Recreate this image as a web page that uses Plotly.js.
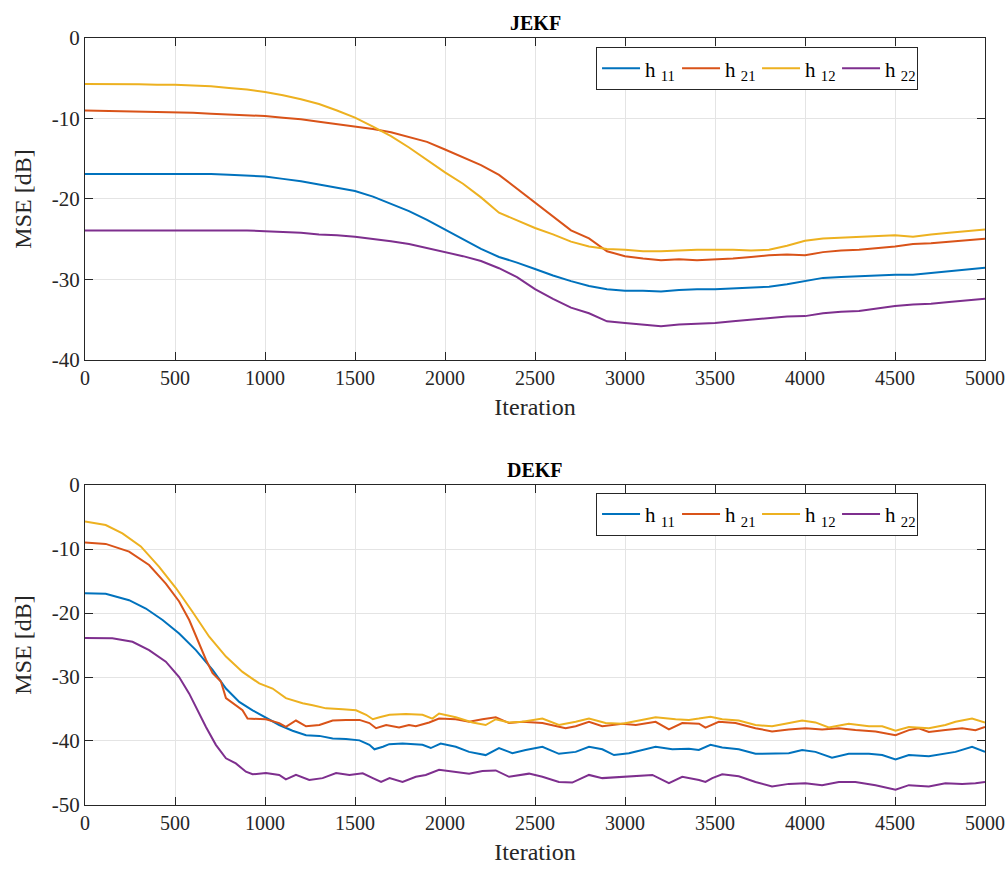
<!DOCTYPE html>
<html>
<head>
<meta charset="utf-8">
<script src="https://cdn.plot.ly/plotly-3.0.1.min.js"></script>
<style>html,body{margin:0;padding:0;background:#fff;}#chart{width:1005px;height:872px;}</style>
</head>
<body>
<div id="chart"></div>
<script>
// ---------- JEKF (top) ----------
var jekfX = [0,100,200,300,400,500,600,700,800,900,1000,1100,1200,1300,1400,1500,1600,1700,1800,1900,2000,2100,2200,2300,2400,2500,2600,2700,2800,2900,3000,3100,3200,3300,3400,3500,3600,3700,3800,3900,4000,4100,4200,4300,4400,4500,4600,4700,4800,4900,5000];
var jekfH11 = [-16.9,-16.9,-16.9,-16.9,-16.9,-16.9,-16.9,-16.9,-17.0,-17.1,-17.2,-17.5,-17.8,-18.2,-18.6,-19.0,-19.7,-20.6,-21.5,-22.6,-23.8,-25.0,-26.2,-27.2,-27.9,-28.7,-29.5,-30.2,-30.8,-31.2,-31.4,-31.4,-31.5,-31.3,-31.2,-31.2,-31.1,-31.0,-30.9,-30.6,-30.2,-29.8,-29.7,-29.6,-29.5,-29.4,-29.4,-29.2,-29.0,-28.8,-28.55];
var jekfH21 = [-9.0,-9.05,-9.1,-9.1,-9.15,-9.2,-9.3,-9.4,-9.5,-9.6,-9.7,-9.9,-10.1,-10.4,-10.7,-11.0,-11.3,-11.7,-12.3,-12.9,-13.85,-14.8,-15.8,-17.0,-18.7,-20.5,-22.1,-23.9,-24.9,-26.5,-27.1,-27.4,-27.6,-27.5,-27.6,-27.5,-27.4,-27.2,-27.0,-26.9,-27.0,-26.6,-26.4,-26.3,-26.1,-25.9,-25.6,-25.5,-25.3,-25.1,-24.95];
var jekfH12 = [-5.7,-5.7,-5.7,-5.75,-5.8,-5.8,-5.9,-6.0,-6.2,-6.4,-6.7,-7.1,-7.6,-8.2,-9.0,-9.9,-11.0,-12.2,-13.6,-15.2,-16.7,-18.1,-19.8,-21.7,-22.7,-23.6,-24.4,-25.3,-25.9,-26.2,-26.3,-26.5,-26.5,-26.4,-26.3,-26.3,-26.3,-26.4,-26.3,-25.8,-25.2,-24.9,-24.8,-24.7,-24.6,-24.5,-24.7,-24.4,-24.2,-24.0,-23.8];
var jekfH22 = [-23.9,-23.9,-23.9,-23.9,-23.9,-23.9,-23.9,-23.9,-23.9,-23.9,-24.0,-24.1,-24.2,-24.4,-24.5,-24.7,-24.95,-25.25,-25.6,-26.1,-26.6,-27.1,-27.7,-28.6,-29.7,-31.2,-32.4,-33.5,-34.2,-35.2,-35.4,-35.6,-35.8,-35.6,-35.5,-35.4,-35.2,-35.0,-34.8,-34.6,-34.55,-34.2,-34.0,-33.9,-33.6,-33.3,-33.1,-33.0,-32.8,-32.6,-32.4];

// ---------- DEKF (bottom) ----------
var dekfH11X = [0,115,245,338,431,523,616,709,783,857,931,1005,1079,1153,1228,1302,1376,1450,1525,1580,1608,1655,1690,1764,1875,1921,1976,2060,2134,2226,2300,2374,2448,2541,2633,2726,2800,2874,2939,3022,3096,3170,3263,3355,3410,3475,3540,3632,3725,3817,3910,3984,4058,4150,4243,4355,4429,4503,4577,4688,4762,4836,4928,5000];
var dekfH11 = [-16.9,-17.0,-18.0,-19.3,-21.1,-23.2,-25.8,-28.9,-31.8,-33.9,-35.2,-36.3,-37.5,-38.4,-39.1,-39.2,-39.6,-39.7,-39.9,-40.6,-41.3,-40.9,-40.5,-40.4,-40.6,-41.1,-40.4,-40.9,-41.7,-42.2,-41.1,-41.9,-41.4,-40.9,-42.0,-41.7,-40.9,-41.3,-42.2,-41.9,-41.4,-40.9,-41.3,-41.2,-41.4,-40.6,-41.0,-41.3,-42.0,-42.0,-41.9,-41.4,-41.7,-42.6,-42.0,-42.0,-42.2,-42.9,-42.2,-42.4,-42.0,-41.7,-40.9,-41.7];

var dekfH21X = [0,115,245,356,449,523,579,625,672,709,755,783,820,875,903,950,1005,1079,1116,1172,1228,1302,1376,1450,1525,1580,1617,1673,1745,1800,1838,1912,1967,2060,2134,2208,2282,2356,2430,2541,2670,2726,2800,2874,2985,3060,3170,3244,3318,3411,3447,3521,3614,3725,3817,3910,4002,4095,4188,4280,4392,4503,4577,4632,4688,4780,4873,4947,5000];
var dekfH21 = [-9.0,-9.2,-10.4,-12.5,-15.4,-18.2,-21.1,-24.2,-27.3,-29.4,-30.7,-33.3,-34.1,-35.2,-36.5,-36.6,-36.6,-37.2,-37.8,-36.8,-37.7,-37.5,-36.8,-36.7,-36.7,-37.2,-38.0,-37.5,-37.9,-37.5,-37.7,-37.1,-36.5,-36.6,-37.0,-36.6,-36.3,-37.2,-37.0,-37.2,-38.0,-37.7,-37.0,-37.7,-37.3,-37.5,-37.0,-38.2,-37.2,-37.3,-37.9,-37.0,-37.2,-38.0,-38.5,-38.2,-38.0,-38.2,-38.0,-38.3,-38.5,-39.1,-38.3,-38.0,-38.6,-38.3,-38.0,-38.3,-37.8];

var dekfH12X = [0,115,208,310,412,505,597,690,783,875,968,1042,1116,1209,1265,1339,1432,1506,1562,1599,1636,1692,1782,1875,1930,1967,2060,2153,2226,2282,2356,2430,2541,2633,2726,2800,2892,2985,3078,3170,3281,3355,3410,3475,3540,3632,3725,3817,3891,3984,4058,4132,4243,4355,4429,4503,4577,4688,4780,4836,4928,5000];
var dekfH12 = [-5.7,-6.25,-7.55,-9.6,-12.8,-16.1,-19.8,-23.7,-26.8,-29.2,-31.0,-31.8,-33.3,-34.1,-34.4,-34.9,-35.05,-35.2,-35.9,-36.6,-36.3,-35.9,-35.8,-35.9,-36.5,-35.7,-36.3,-37.1,-37.5,-36.6,-37.1,-37.0,-36.5,-37.5,-37.0,-36.5,-37.2,-37.3,-36.8,-36.3,-36.6,-36.7,-36.5,-36.2,-36.6,-36.8,-37.5,-37.7,-37.3,-36.8,-37.1,-37.9,-37.3,-37.7,-37.7,-38.4,-37.8,-38.0,-37.5,-37.0,-36.5,-37.1];

var dekfH22X = [0,152,264,356,449,523,579,625,672,727,783,838,894,931,1005,1079,1116,1172,1246,1320,1395,1469,1543,1599,1645,1692,1764,1838,1893,1967,2060,2134,2208,2282,2356,2467,2541,2633,2707,2800,2874,2985,3060,3152,3244,3318,3411,3447,3485,3540,3632,3725,3817,3910,4002,4095,4188,4280,4392,4503,4577,4688,4780,4873,4947,5000];
var dekfH22 = [-23.9,-23.95,-24.5,-25.8,-27.6,-30.0,-32.6,-35.2,-37.8,-40.6,-42.7,-43.5,-44.8,-45.2,-45.0,-45.3,-46.0,-45.3,-46.1,-45.8,-45.0,-45.3,-45.05,-45.8,-46.4,-45.8,-46.4,-45.6,-45.3,-44.5,-44.9,-45.1,-44.7,-44.6,-45.6,-45.1,-45.6,-46.4,-46.5,-45.3,-45.8,-45.6,-45.5,-45.3,-46.6,-45.6,-46.1,-46.4,-45.8,-45.2,-45.5,-46.4,-47.1,-46.7,-46.6,-46.9,-46.4,-46.4,-46.9,-47.6,-46.9,-47.1,-46.6,-46.7,-46.6,-46.4];

// ---------- labels / ticks ----------
var seriesNames = ['h <sub>11</sub>','h <sub>21</sub>','h <sub>12</sub>','h <sub>22</sub>'];
var seriesColors = ['#0072BD','#D95319','#EDB120','#7E2F8E'];
var xTickVals = [0,500,1000,1500,2000,2500,3000,3500,4000,4500,5000];
var xTickText = ['0','500','1000','1500','2000','2500','3000','3500','4000','4500','5000'];
var yTopTickVals = [-40,-30,-20,-10,0];
var yTopTickText = ['-40','-30','-20','-10','0'];
var yBotTickVals = [-50,-40,-30,-20,-10,0];
var yBotTickText = ['-50','-40','-30','-20','-10','0'];
var panelTitles = ['JEKF','DEKF'];

var FONT = 'Liberation Serif';
var topData = [jekfH11, jekfH21, jekfH12, jekfH22];
var botX = [dekfH11X, dekfH21X, dekfH12X, dekfH22X];
var botData = [dekfH11, dekfH21, dekfH12, dekfH22];

var traces = [];
for (var i = 0; i < 4; i++) {
  traces.push({x: jekfX, y: topData[i], type: 'scatter', mode: 'lines', name: seriesNames[i],
    line: {color: seriesColors[i], width: 2}, xaxis: 'x', yaxis: 'y', legend: 'legend'});
}
for (var j = 0; j < 4; j++) {
  traces.push({x: botX[j], y: botData[j], type: 'scatter', mode: 'lines', name: seriesNames[j],
    line: {color: seriesColors[j], width: 2}, xaxis: 'x2', yaxis: 'y2', legend: 'legend2'});
}

function xAxis(anchor) {
  return {anchor: anchor, domain: [0, 1], range: [0, 5000], tickvals: xTickVals, ticktext: xTickText,
    ticks: 'inside', ticklen: 8, tickcolor: '#262626', tickwidth: 1,
    showline: true, linecolor: '#262626', linewidth: 1, mirror: 'ticks',
    showgrid: true, gridcolor: '#e4e4e4', gridwidth: 1, zeroline: false,
    ticklabeloverflow: 'allow',
    tickfont: {family: FONT, size: 20, color: '#262626'},
    title: {text: 'Iteration', font: {family: FONT, size: 24, color: '#262626'}, standoff: 10}};
}
function yAxis(anchor, dom, rng, tv, tt) {
  return {anchor: anchor, domain: dom, range: rng, tickvals: tv, ticktext: tt,
    ticks: 'inside', ticklen: 8, tickcolor: '#262626', tickwidth: 1,
    showline: true, linecolor: '#262626', linewidth: 1, mirror: 'ticks',
    showgrid: true, gridcolor: '#e4e4e4', gridwidth: 1, zeroline: false,
    ticklabeloverflow: 'allow',
    tickfont: {family: FONT, size: 21, color: '#262626'},
    title: {text: 'MSE [dB]', font: {family: FONT, size: 24, color: '#262626'}, standoff: 13}};
}
function legendCfg(ytop) {
  return {orientation: 'h', x: 0.9256, xanchor: 'right', y: ytop, yanchor: 'top',
    bgcolor: '#ffffff', bordercolor: '#262626', borderwidth: 1,
    font: {family: FONT, size: 21, color: '#000000'}, itemwidth: 38,
    entrywidth: 27, entrywidthmode: 'pixels',
    tracegroupgap: 0, itemclick: false};
}

var layout = {
  width: 1005, height: 872,
  margin: {l: 85, r: 20, t: 38, b: 67},
  paper_bgcolor: '#ffffff', plot_bgcolor: '#ffffff',
  showlegend: true,
  xaxis: xAxis('y'),
  yaxis: yAxis('x', [0.5802, 1], [-40, 0], yTopTickVals, yTopTickText),
  xaxis2: xAxis('y2'),
  yaxis2: yAxis('x2', [0, 0.4172], [-50, 0], yBotTickVals, yBotTickText),
  legend: legendCfg(0.988),
  legend2: legendCfg(0.407),
  annotations: [
    {text: '<b>' + panelTitles[0] + '</b>', xref: 'paper', yref: 'paper', x: 0.5, y: 1.0, yanchor: 'bottom', yshift: 2,
     showarrow: false, font: {family: FONT, size: 20, color: '#000'}},
    {text: '<b>' + panelTitles[1] + '</b>', xref: 'paper', yref: 'paper', x: 0.5, y: 0.4172, yanchor: 'bottom', yshift: 2,
     showarrow: false, font: {family: FONT, size: 20, color: '#000'}}
  ]
};

Plotly.newPlot('chart', traces, layout, {displayModeBar: false, staticPlot: true});
</script>
</body>
</html>
